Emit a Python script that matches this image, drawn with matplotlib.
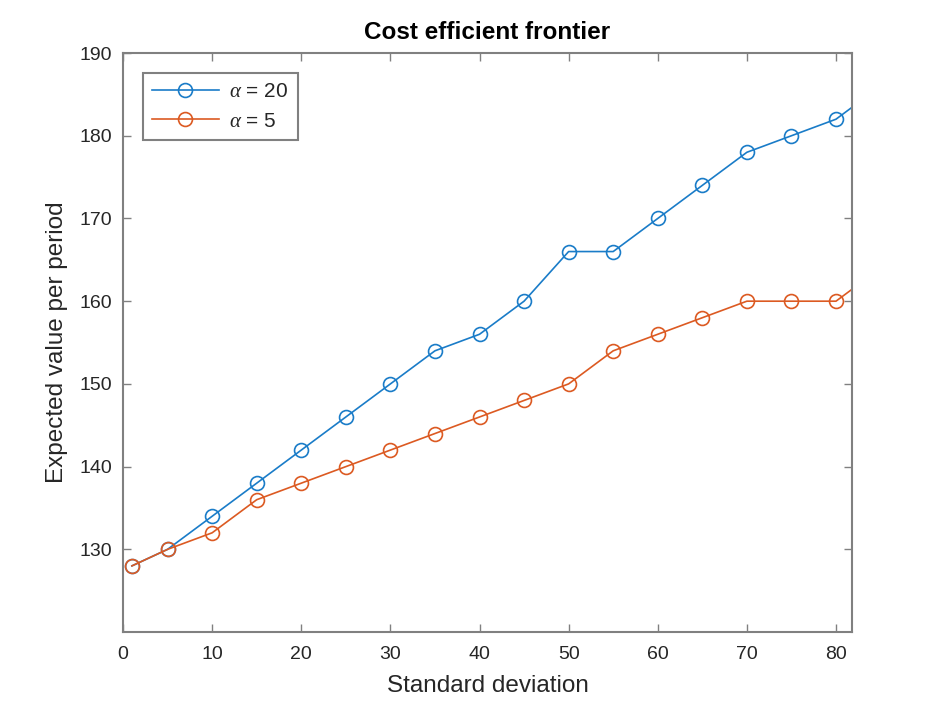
import numpy as np
import matplotlib.pyplot as plt

plt.rcParams['font.family'] = ['Liberation Sans', 'DejaVu Sans']
plt.rcParams['mathtext.fontset'] = 'custom'
plt.rcParams['mathtext.it'] = 'Liberation Serif:italic'

# Standard deviation values (last point lies beyond the axis limit)
std_dev = [1, 5, 10, 15, 20, 25, 30, 35, 40, 45, 50, 55, 60, 65, 70, 75, 80, 85]
value_a20 = [128, 130, 134, 138, 142, 146, 150, 154, 156, 160, 166, 166, 170, 174, 178, 180, 182, 186]
value_a5 = [128, 130, 132, 136, 138, 140, 142, 144, 146, 148, 150, 154, 156, 158, 160, 160, 160, 164]

blue = '#1a7cc8'
orange = '#dc5a22'
axis_col = '#808080'
text_col = '#262626'

fig = plt.figure(figsize=(9.42, 7.07), dpi=100)
ax = fig.add_axes([0.1306, 0.106, 0.7739, 0.819])

ax.plot(std_dev, value_a20, '-o', color=blue, lw=1.2, ms=10, mfc='none', mew=1.2,
        label=r'$\alpha$ = 20')
ax.plot(std_dev, value_a5, '-o', color=orange, lw=1.2, ms=10, mfc='none', mew=1.2,
        label=r'$\alpha$ = 5')

ax.set_xlim(0, 81.8)
ax.set_ylim(120, 190)
ax.set_xticks(np.arange(0, 81, 10))
ax.set_yticks(np.arange(130, 191, 10))

ax.set_title('Cost efficient frontier', fontsize=17.5, fontweight='bold', color='black', pad=10)
ax.set_xlabel('Standard deviation', fontsize=17.5, color=text_col, labelpad=9)
ax.set_ylabel('Expected value per period', fontsize=17.5, color=text_col, labelpad=8)

for s in ax.spines.values():
    s.set_color(axis_col)
    s.set_linewidth(1.5)
ax.tick_params(direction='in', top=True, right=True, length=6, width=1.0,
               color=axis_col, labelcolor=text_col, labelsize=14)
ax.tick_params(axis='x', pad=10)
ax.tick_params(axis='y', pad=8)

leg = ax.legend(loc='upper left', bbox_to_anchor=(0.027, 0.966), borderaxespad=0,
                fontsize=15, fancybox=False, framealpha=1, edgecolor=axis_col,
                handlelength=3.2, handletextpad=0.5, borderpad=0.45, labelspacing=0.5)
leg.get_frame().set_linewidth(1.5)
for t in leg.get_texts():
    t.set_color(text_col)

fig.savefig('out.png', dpi=100)
